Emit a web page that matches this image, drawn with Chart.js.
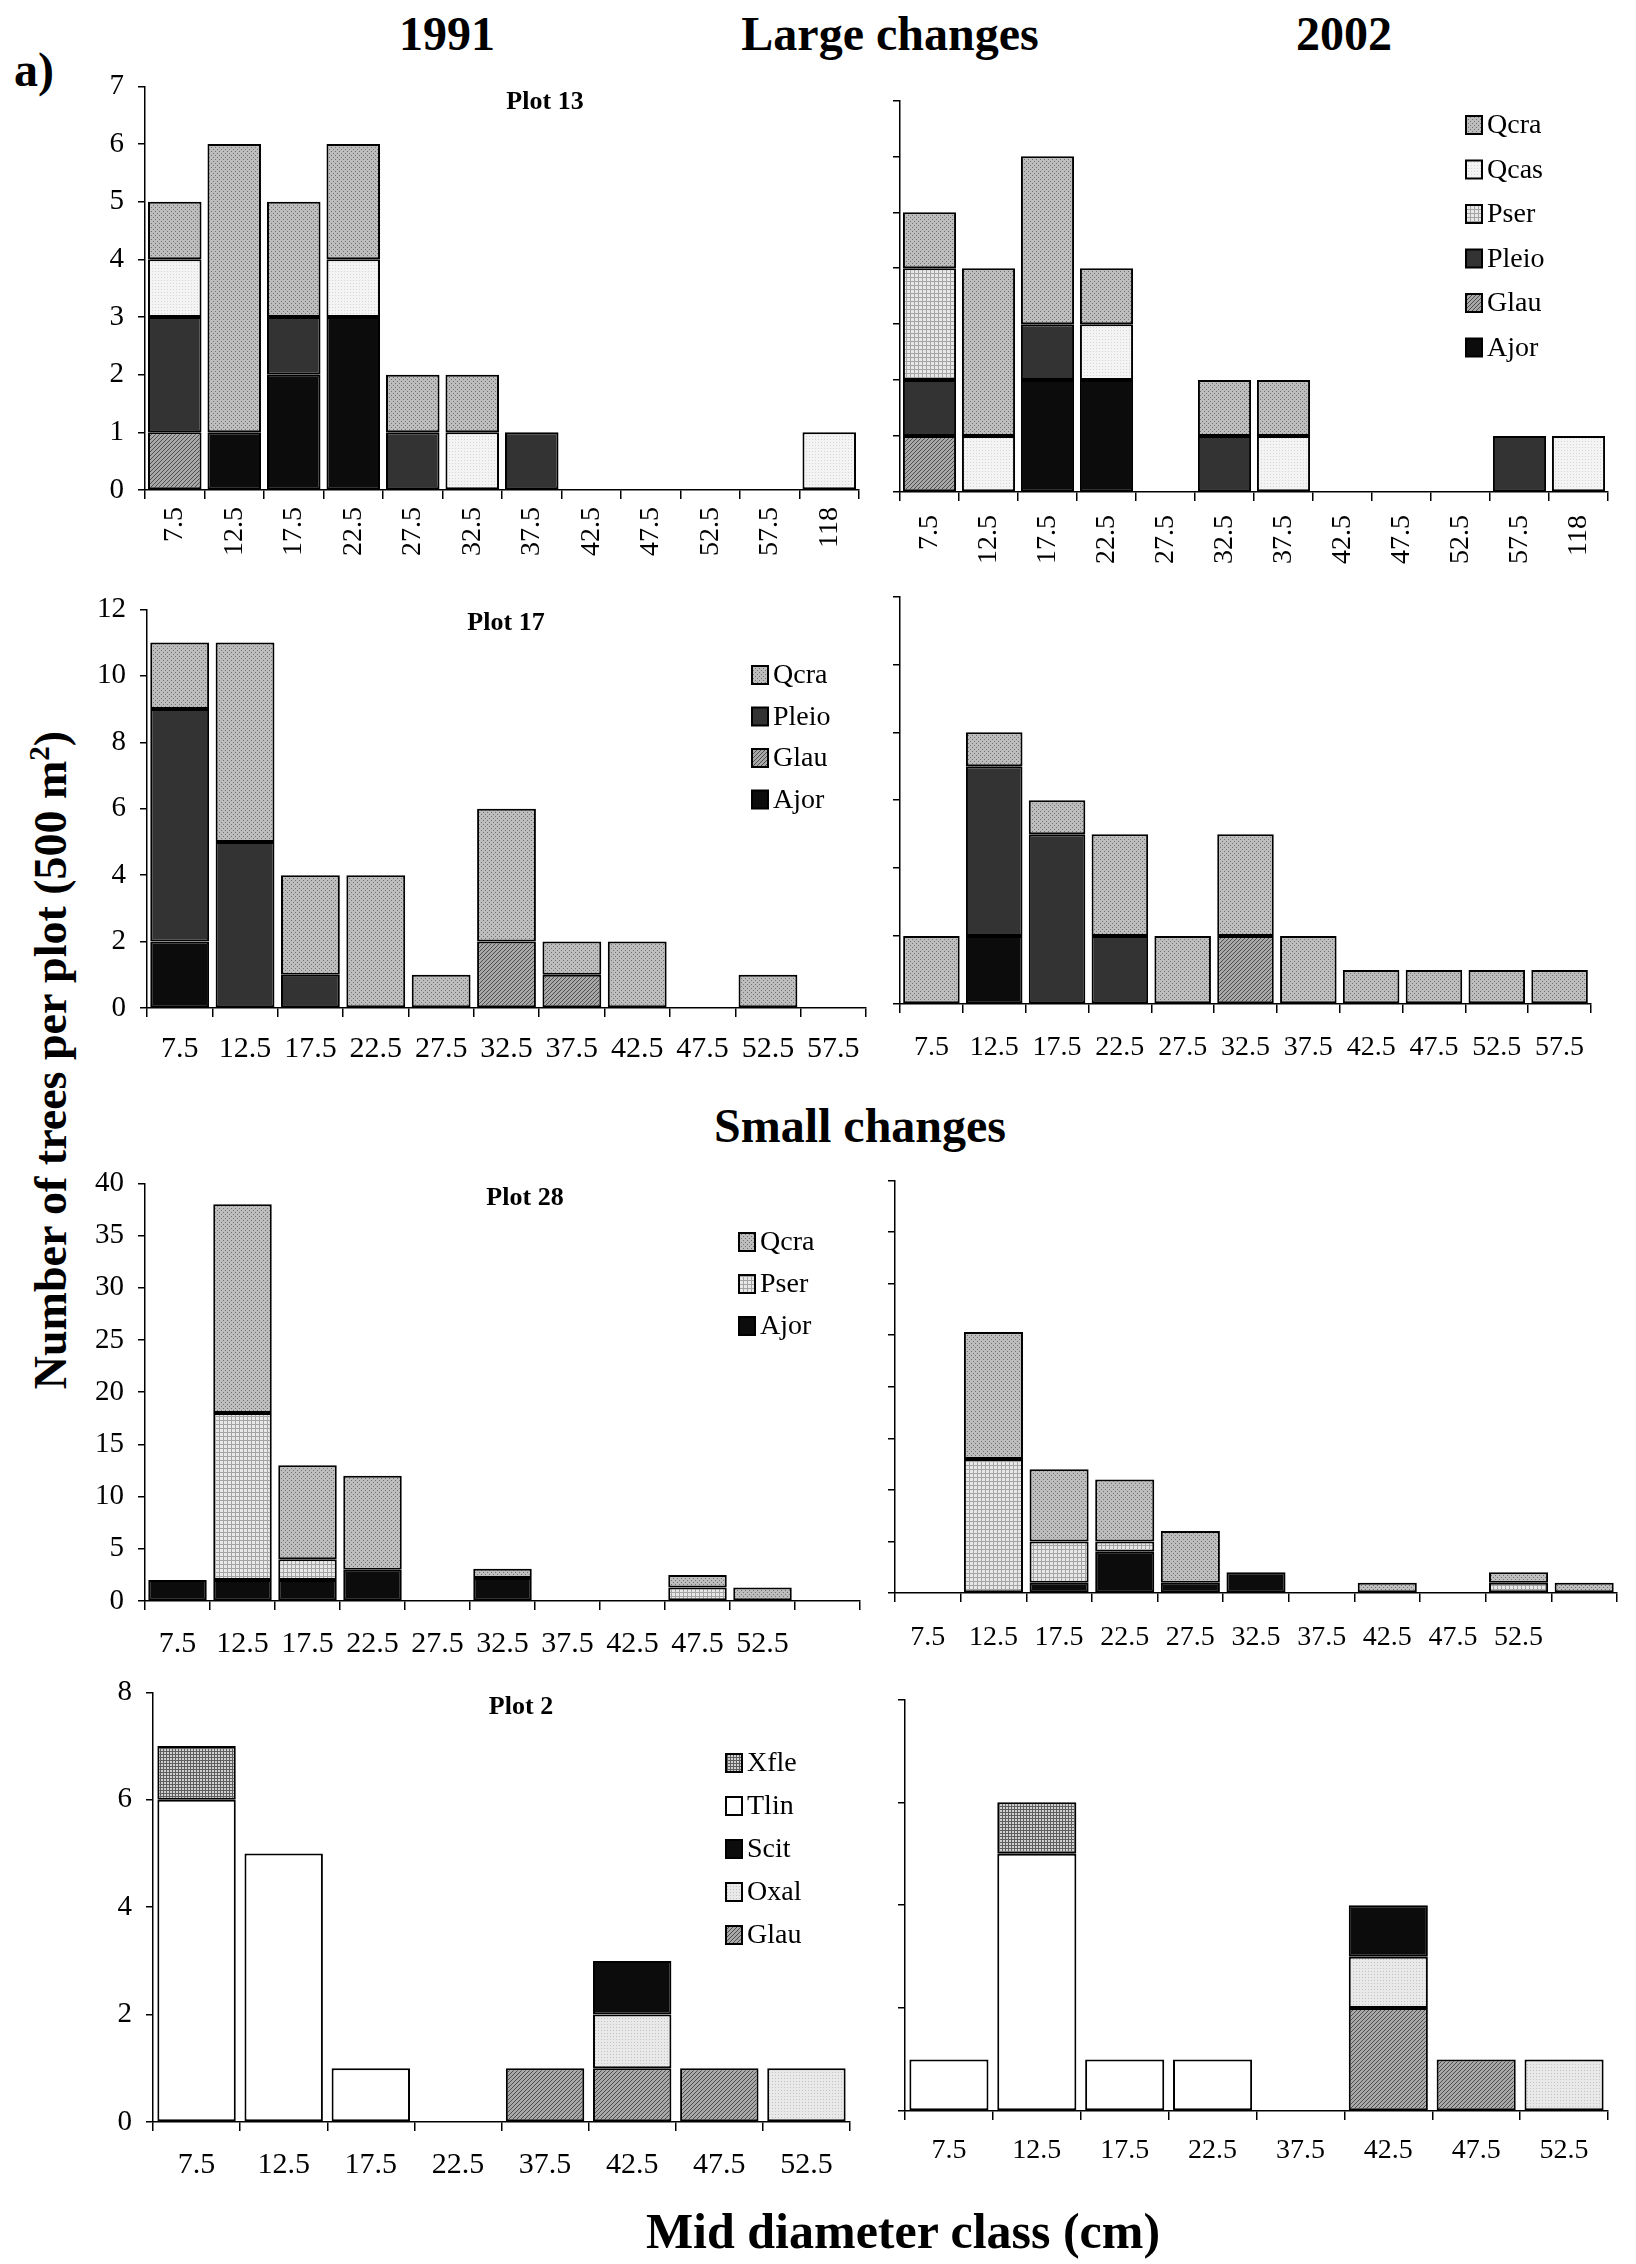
<!DOCTYPE html>
<html>
<head>
<meta charset="utf-8">
<script src="https://cdn.jsdelivr.net/npm/chart.js@4.4.1/dist/chart.umd.min.js"></script>
<style>
  body { margin: 0; background: #fff; }
  #page { position: relative; width: 1636px; height: 2264px; overflow: hidden; background: #fff;
          font-family: "Liberation Serif", "Times New Roman", serif; color: #000; }
  .lbl { position: absolute; font-weight: bold; white-space: nowrap; transform: translate(-50%, -50%); }
  canvas { position: absolute; }
</style>
</head>
<body>
<div id="page">
  <div class="lbl" style="left:34px; top:69px; font-size:48px">a)</div>
  <div class="lbl" style="left:447px; top:33px; font-size:48px">1991</div>
  <div class="lbl" style="left:890px; top:33px; font-size:48px">Large changes</div>
  <div class="lbl" style="left:1344px; top:33px; font-size:48px">2002</div>
  <div class="lbl" style="left:860px; top:1125px; font-size:48px">Small changes</div>
  <div class="lbl" style="left:903px; top:2231px; font-size:50px">Mid diameter class (cm)</div>
  <div class="lbl" style="left:50px; top:1060px; font-size:46px; transform:translate(-50%,-50%) rotate(-90deg)">Number of trees per plot (500 m<sup style="font-size:29px">2</sup>)</div>
</div>
<script>
// diameter classes (cm)
const classes13 = ['7.5', '12.5', '17.5', '22.5', '27.5', '32.5', '37.5', '42.5', '47.5', '52.5', '57.5', '118'];
const classes17 = ['7.5', '12.5', '17.5', '22.5', '27.5', '32.5', '37.5', '42.5', '47.5', '52.5', '57.5'];
const classes28 = ['7.5', '12.5', '17.5', '22.5', '27.5', '32.5', '37.5', '42.5', '47.5', '52.5', ''];
const classes2 = ['7.5', '12.5', '17.5', '22.5', '37.5', '42.5', '47.5', '52.5'];

// Plot 13, 1991
const p13y91Ajor  = [0, 1, 2, 3, 0, 0, 0, 0, 0, 0, 0, 0];
const p13y91Glau  = [1, 0, 0, 0, 0, 0, 0, 0, 0, 0, 0, 0];
const p13y91Pleio = [2, 0, 1, 0, 1, 0, 1, 0, 0, 0, 0, 0];
const p13y91Pser  = [0, 0, 0, 0, 0, 0, 0, 0, 0, 0, 0, 0];
const p13y91Qcas  = [1, 0, 0, 1, 0, 1, 0, 0, 0, 0, 0, 1];
const p13y91Qcra  = [1, 5, 2, 2, 1, 1, 0, 0, 0, 0, 0, 0];
// Plot 13, 2002
const p13y02Ajor  = [0, 0, 2, 2, 0, 0, 0, 0, 0, 0, 0, 0];
const p13y02Glau  = [1, 0, 0, 0, 0, 0, 0, 0, 0, 0, 0, 0];
const p13y02Pleio = [1, 0, 1, 0, 0, 1, 0, 0, 0, 0, 1, 0];
const p13y02Pser  = [2, 0, 0, 0, 0, 0, 0, 0, 0, 0, 0, 0];
const p13y02Qcas  = [0, 1, 0, 1, 0, 0, 1, 0, 0, 0, 0, 1];
const p13y02Qcra  = [1, 3, 3, 1, 0, 1, 1, 0, 0, 0, 0, 0];

// Plot 17, 1991
const p17y91Ajor  = [2, 0, 0, 0, 0, 0, 0, 0, 0, 0, 0];
const p17y91Glau  = [0, 0, 0, 0, 0, 2, 1, 0, 0, 0, 0];
const p17y91Pleio = [7, 5, 1, 0, 0, 0, 0, 0, 0, 0, 0];
const p17y91Qcra  = [2, 6, 3, 4, 1, 4, 1, 2, 0, 1, 0];
// Plot 17, 2002
const p17y02Ajor  = [0, 2, 0, 0, 0, 0, 0, 0, 0, 0, 0];
const p17y02Glau  = [0, 0, 0, 0, 0, 2, 0, 0, 0, 0, 0];
const p17y02Pleio = [0, 5, 5, 2, 0, 0, 0, 0, 0, 0, 0];
const p17y02Qcra  = [2, 1, 1, 3, 2, 3, 2, 1, 1, 1, 1];

// Plot 28, 1991
const p28y91Ajor = [2, 2, 2, 3, 0, 2.2, 0, 0, 0, 0, 0];
const p28y91Pser = [0, 16, 2, 0, 0, 0, 0, 0, 1.3, 0, 0];
const p28y91Qcra = [0, 20, 9, 9, 0, 0.9, 0, 0, 1.2, 1.3, 0];
// Plot 28, 2002
const p28y02Ajor = [0, 0, 1, 4, 1, 2, 0, 0, 0, 0, 0];
const p28y02Pser = [0, 13, 4, 1, 0, 0, 0, 0, 0, 1, 0];
const p28y02Qcra = [0, 12.3, 7, 6, 5, 0, 0, 1, 0, 1, 1];

// Plot 2, 1991
const p2y91Glau = [0, 0, 0, 0, 1, 1, 1, 0];
const p2y91Oxal = [0, 0, 0, 0, 0, 1, 0, 1];
const p2y91Scit = [0, 0, 0, 0, 0, 1, 0, 0];
const p2y91Tlin = [6, 5, 1, 0, 0, 0, 0, 0];
const p2y91Xfle = [1, 0, 0, 0, 0, 0, 0, 0];
// Plot 2, 2002
const p2y02Glau = [0, 0, 0, 0, 0, 2, 1, 0];
const p2y02Oxal = [0, 0, 0, 0, 0, 1, 0, 1];
const p2y02Scit = [0, 0, 0, 0, 0, 1, 0, 0];
const p2y02Tlin = [1, 5, 1, 1, 0, 0, 0, 0];
const p2y02Xfle = [0, 1, 0, 0, 0, 0, 0, 0];

const SERIF = '"Liberation Serif", "Times New Roman", serif';

// small repeating fills to imitate the printed shadings
function pattern(size, bg, paint) {
    const c = document.createElement('canvas');
    c.width = c.height = size;
    const g = c.getContext('2d');
    g.fillStyle = bg;
    g.fillRect(0, 0, size, size);
    if (paint) paint(g);
    return g.createPattern(c, 'repeat');
}

const fills = {
    Qcra: pattern(4, '#bdbdbd', g => { g.fillStyle = '#727272'; g.fillRect(0, 0, 1, 1); g.fillRect(2, 2, 1, 1); }),
    Qcas: pattern(3, '#f4f4f4', g => { g.fillStyle = '#d6d6d6'; g.fillRect(0, 0, 1, 1); }),
    Pser: pattern(4, '#e8e8e8', g => { g.fillStyle = '#a4a4a4'; g.fillRect(0, 0, 4, 1); g.fillRect(0, 0, 1, 4); }),
    Pleio: '#333333',
    Glau: pattern(4, '#a8a8a8', g => { g.fillStyle = '#4e4e4e'; for (let i = 0; i < 4; i++) g.fillRect(i, 3 - i, 1, 1); }),
    Ajor: '#0c0c0c',
    Xfle: pattern(3, '#d2d2d2', g => { g.fillStyle = '#5e5e5e'; g.fillRect(0, 0, 3, 1); g.fillRect(0, 0, 1, 3); }),
    Tlin: '#ffffff',
    Scit: '#0c0c0c',
    Oxal: pattern(3, '#e9e9e9', g => { g.fillStyle = '#c4c4c4'; g.fillRect(0, 0, 1, 1); })
};

function series(label, values) {
    return {
        label: label,
        data: values.map(v => v === 0 ? null : v),
        backgroundColor: fills[label],
        borderColor: '#000',
        borderWidth: 2,
        borderSkipped: false,
        barPercentage: 0.9,
        categoryPercentage: 1.0
    };
}

// plot title and legend drawn inside the plot area
const panelText = {
    id: 'panelText',
    afterDraw(chart, args, o) {
        const ctx = chart.ctx;
        const ox = chart.canvas.offsetLeft, oy = chart.canvas.offsetTop;
        ctx.save();
        if (o.title) {
            ctx.fillStyle = '#000';
            ctx.font = 'bold 26px ' + SERIF;
            ctx.textAlign = 'center';
            ctx.textBaseline = 'middle';
            ctx.fillText(o.title, o.titleX - ox, o.titleY - oy);
        }
        if (o.legendX) {
            const sets = chart.data.datasets.slice().reverse();
            sets.forEach((ds, i) => {
                const x = o.legendX - ox, y = o.legendY - oy + i * o.legendGap;
                ctx.fillStyle = ds.backgroundColor;
                ctx.fillRect(x, y - 9, 16, 18);
                ctx.lineWidth = 2;
                ctx.strokeStyle = '#000';
                ctx.strokeRect(x, y - 9, 16, 18);
                ctx.fillStyle = '#000';
                ctx.font = '28px ' + SERIF;
                ctx.textAlign = 'left';
                ctx.textBaseline = 'middle';
                ctx.fillText(ds.label, x + 21, y + 1);
            });
        }
        ctx.restore();
    }
};

const ML = 62, MT = 30, MR = 20, MB = 80;

function panel(box, labels, datasets, yMax, yStep, p) {
    const canvas = document.createElement('canvas');
    canvas.width = box.r - box.l + ML + MR;
    canvas.height = box.b - box.t + MT + MB;
    canvas.style.left = (box.l - ML) + 'px';
    canvas.style.top = (box.t - MT) + 'px';
    document.getElementById('page').appendChild(canvas);

    new Chart(canvas.getContext('2d'), {
        type: 'bar',
        data: { labels: labels, datasets: datasets },
        options: {
            responsive: false,
            animation: false,
            devicePixelRatio: 1,
            layout: { padding: { left: 0, top: MT, right: MR, bottom: 0 } },
            scales: {
                x: {
                    stacked: true,
                    afterFit: s => { s.height = MB; },
                    grid: { offset: true, drawOnChartArea: false, drawTicks: true, tickLength: 9, color: '#000', lineWidth: 1.5 },
                    border: { display: true, color: '#000', width: 1.5 },
                    ticks: {
                        autoSkip: false,
                        minRotation: p.rotate ? 90 : 0,
                        maxRotation: p.rotate ? 90 : 0,
                        padding: p.xPad,
                        color: '#000',
                        font: { family: SERIF, size: p.xFont }
                    }
                },
                y: {
                    stacked: true,
                    min: 0,
                    max: yMax,
                    afterFit: s => { s.width = ML; },
                    grid: { drawOnChartArea: false, drawTicks: true, tickLength: 7, color: '#000', lineWidth: 1.5 },
                    border: { display: true, color: '#000', width: 1.5 },
                    ticks: {
                        stepSize: yStep,
                        padding: 14,
                        color: '#000',
                        font: { family: SERIF, size: 29 },
                        callback: v => p.showY ? v : ''
                    }
                }
            },
            plugins: {
                legend: { display: false },
                tooltip: { enabled: false },
                panelText: p.text || {}
            }
        },
        plugins: [panelText]
    });
}

// Large changes: plot 13
panel({ l: 145, t: 85, r: 859, b: 490 }, classes13, [
    series('Ajor', p13y91Ajor), series('Glau', p13y91Glau), series('Pleio', p13y91Pleio),
    series('Pser', p13y91Pser), series('Qcas', p13y91Qcas), series('Qcra', p13y91Qcra)
], 7, 1, { rotate: true, xPad: 8, xFont: 28, showY: true,
    text: { title: 'Plot 13', titleX: 545, titleY: 102 } });

panel({ l: 900, t: 99, r: 1608, b: 492 }, classes13, [
    series('Ajor', p13y02Ajor), series('Glau', p13y02Glau), series('Pleio', p13y02Pleio),
    series('Pser', p13y02Pser), series('Qcas', p13y02Qcas), series('Qcra', p13y02Qcra)
], 7, 1, { rotate: true, xPad: 14, xFont: 28, showY: false,
    text: { legendX: 1466, legendY: 125, legendGap: 44.5 } });

// Large changes: plot 17
panel({ l: 147, t: 608, r: 866, b: 1008 }, classes17, [
    series('Ajor', p17y91Ajor), series('Glau', p17y91Glau), series('Pleio', p17y91Pleio), series('Qcra', p17y91Qcra)
], 12, 2, { rotate: false, xPad: 14, xFont: 30, showY: true,
    text: { title: 'Plot 17', titleX: 506, titleY: 623, legendX: 752, legendY: 675, legendGap: 41.5 } });

panel({ l: 900, t: 595, r: 1591, b: 1004 }, classes17, [
    series('Ajor', p17y02Ajor), series('Glau', p17y02Glau), series('Pleio', p17y02Pleio), series('Qcra', p17y02Qcra)
], 12, 2, { rotate: false, xPad: 18, xFont: 28, showY: false });

// Small changes: plot 28
panel({ l: 145, t: 1182, r: 860, b: 1601 }, classes28, [
    series('Ajor', p28y91Ajor), series('Pser', p28y91Pser), series('Qcra', p28y91Qcra)
], 40, 5, { rotate: false, xPad: 16, xFont: 30, showY: true,
    text: { title: 'Plot 28', titleX: 525, titleY: 1198, legendX: 739, legendY: 1242, legendGap: 42 } });

panel({ l: 895, t: 1179, r: 1617, b: 1593 }, classes28, [
    series('Ajor', p28y02Ajor), series('Pser', p28y02Pser), series('Qcra', p28y02Qcra)
], 40, 5, { rotate: false, xPad: 19, xFont: 28, showY: false });

// Small changes: plot 2
panel({ l: 153, t: 1691, r: 850, b: 2122 }, classes2, [
    series('Glau', p2y91Glau), series('Oxal', p2y91Oxal), series('Scit', p2y91Scit),
    series('Tlin', p2y91Tlin), series('Xfle', p2y91Xfle)
], 8, 2, { rotate: false, xPad: 16, xFont: 30, showY: true,
    text: { title: 'Plot 2', titleX: 521, titleY: 1707, legendX: 726, legendY: 1763, legendGap: 43 } });

panel({ l: 905, t: 1698, r: 1608, b: 2111 }, classes2, [
    series('Glau', p2y02Glau), series('Oxal', p2y02Oxal), series('Scit', p2y02Scit),
    series('Tlin', p2y02Tlin), series('Xfle', p2y02Xfle)
], 8, 2, { rotate: false, xPad: 14, xFont: 28, showY: false });
</script>
</body>
</html>
